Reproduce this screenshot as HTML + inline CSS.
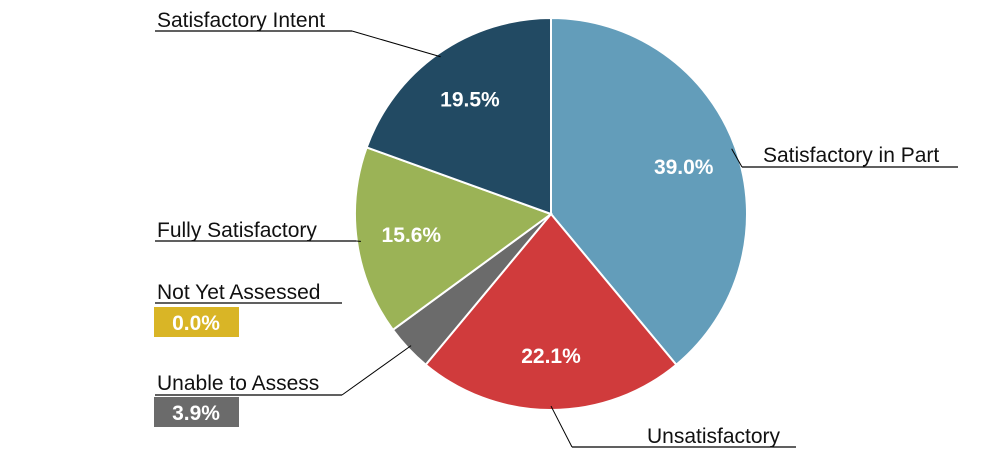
<!DOCTYPE html>
<html><head><meta charset="utf-8"><style>
body{margin:0;background:#fff;}
svg{display:block;font-family:"Liberation Sans",sans-serif;}
</style></head><body>
<svg id="chart" width="1000" height="475" viewBox="0 0 1000 475">
<g id="slices"></g>
<g id="labels"></g>
</svg>
<script>
const categories=["Satisfactory in Part","Unsatisfactory","Unable to Assess","Not Yet Assessed","Fully Satisfactory","Satisfactory Intent"];
const values=[39.0,22.1,3.9,0.0,15.6,19.5];
const valueLabels=["39.0%","22.1%","3.9%","0.0%","15.6%","19.5%"];
const colors=["#639dba","#d03b3c","#6b6b6b","#d9b526","#9bb356","#224a63"];
const NS="http://www.w3.org/2000/svg";
const cx=551,cy=214,r=196;
const total=values.reduce((a,b)=>a+b,0);
const sg=document.getElementById('slices'),lg=document.getElementById('labels');
function pt(a,rr){return [cx+rr*Math.sin(a),cy-rr*Math.cos(a)];}
function mk(tag,attrs,parent){const e=document.createElementNS(NS,tag);for(const k in attrs)e.setAttribute(k,attrs[k]);parent.appendChild(e);return e;}
// external label layout (text position, underline, leader end) per category
const ext=[
 {tx:763,ty:162,ux1:742,ux2:958,uy:167,side:"r"},
 {tx:647,ty:443,ux1:572,ux2:796,uy:447,side:"r"},
 {tx:157,ty:390,ux1:155,ux2:342,uy:395,side:"l",box:[154,397]},
 {tx:157,ty:299,ux1:155,ux2:342,uy:303,side:"l",box:[154,307]},
 {tx:157,ty:237,ux1:155,ux2:356,uy:241,side:"l"},
 {tx:157,ty:27,ux1:155,ux2:352,uy:31,side:"l"}
];
let a0=0;
values.forEach((v,i)=>{
 const a1=a0+v/total*2*Math.PI;
 const mid=(a0+a1)/2;
 if(v>0){
  const p0=pt(a0,r),p1=pt(a1,r);
  const large=(a1-a0)>Math.PI?1:0;
  const p=mk('path',{d:`M${cx},${cy}L${p0[0]},${p0[1]}A${r},${r} 0 ${large} 1 ${p1[0]},${p1[1]}Z`,fill:colors[i],stroke:'#fff','stroke-width':2},sg);
  
  
 }
 const e=ext[i];
 // leader line
 const edge=pt(mid,r*0.98);
 const ux=e.side==="r"?e.ux1:e.ux2;
 const ln=mk('polyline',{points:`${e.ux1},${e.uy} ${e.ux2},${e.uy}`,stroke:'#000','stroke-width':1.2,fill:'none'},lg);
 
 
 if(v>0){
  const ld=mk('line',{x1:ux,y1:e.uy,x2:edge[0],y2:edge[1],stroke:'#000','stroke-width':1},lg);
  
  
 }
 const t=mk('text',{x:e.tx,y:e.ty,'font-size':21,fill:'#111'},lg);
 t.textContent=categories[i];
 
 
 if(e.box){
  const b=mk('rect',{x:e.box[0],y:e.box[1],width:85,height:30,fill:colors[i]},lg);
  
  
  const bt=mk('text',{x:e.box[0]+42,y:e.box[1]+23,'font-size':21,'font-weight':'bold',fill:'#fff','text-anchor':'middle'},lg);
  bt.textContent=valueLabels[i];
  
  
 } else {
  const ip=pt(mid,r*0.72);
  const it=mk('text',{x:ip[0],y:ip[1]+8,'font-size':21,'font-weight':'bold',fill:'#fff','text-anchor':'middle'},lg);
  it.textContent=valueLabels[i];
  
  
 }
 a0=a1;
});
</script>
</body></html>
